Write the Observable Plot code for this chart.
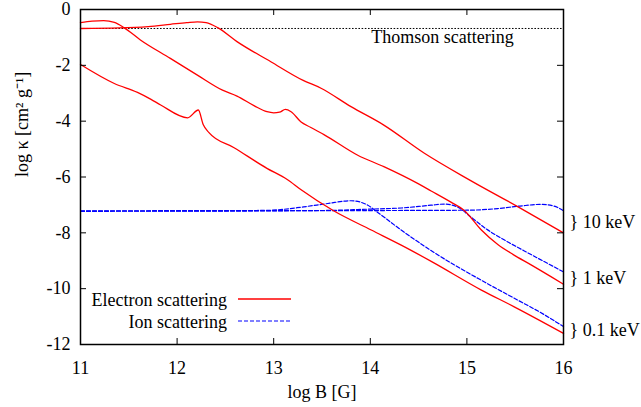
<!DOCTYPE html>
<html><head><meta charset="utf-8">
<script src="https://cdn.jsdelivr.net/npm/d3@7"></script>
<script src="https://cdn.jsdelivr.net/npm/@observablehq/plot@0.6"></script>
<style>
html,body{margin:0;padding:0;background:#fff;}
#chart svg{display:block;}
</style></head><body><div id="chart"></div>
<script>
// ---- data ----
const xTicks = [11, 12, 13, 14, 15, 16];
const yTicks = [0, -2, -4, -6, -8, -10, -12];
const energies = ["10 keV", "1 keV", "0.1 keV"];
const thomsonLog = -0.68;
const thomsonText = "Thomson scattering";
const xLabel = "log B [G]";
const yLabel = "log \u03ba [cm\u00b2 g\u207b\u00b9]";
const legendLabels = ["Electron scattering", "Ion scattering"];

const electron10keV = [[11.0,-0.68],[11.4,-0.66],[11.7,-0.61],[11.93,-0.53],[12.1,-0.47],[12.21,-0.44],[12.3,-0.47],[12.42,-0.65],[12.62,-1.15],[12.97,-1.87],[13.3,-2.53],[13.49,-2.82],[13.8,-3.48],[14.14,-4.14],[14.56,-5.15],[15.03,-6.11],[15.53,-7.07],[16.0,-8.0]];
const electron1keV = [[11.0,-0.47],[11.12,-0.42],[11.24,-0.40],[11.35,-0.46],[11.45,-0.65],[11.62,-1.09],[11.93,-1.75],[12.21,-2.35],[12.47,-2.89],[12.62,-3.10],[12.8,-3.45],[12.93,-3.66],[13.0,-3.70],[13.06,-3.68],[13.12,-3.58],[13.18,-3.66],[13.28,-4.02],[13.38,-4.22],[13.52,-4.48],[13.87,-5.22],[14.14,-5.63],[14.49,-6.23],[14.63,-6.50],[14.83,-6.89],[14.97,-7.19],[15.15,-7.90],[15.32,-8.42],[15.48,-8.78],[15.66,-9.14],[16.0,-9.84]];
const electron01keV = [[11.0,-1.97],[11.35,-2.65],[11.59,-2.97],[11.73,-3.22],[11.83,-3.42],[12.11,-3.88],[12.22,-3.60],[12.27,-4.12],[12.33,-4.41],[12.59,-4.95],[12.93,-5.69],[13.14,-6.09],[13.28,-6.45],[13.62,-7.21],[14.01,-7.90],[14.32,-8.44],[14.64,-9.04],[15.15,-10.05],[15.49,-10.65],[16.0,-11.6]];
const ion10keV = [[11.0,-7.22],[15.0,-7.19],[15.32,-7.13],[15.55,-7.04],[15.77,-6.98],[15.9,-7.04],[16.0,-7.21]];
const ion1keV = [[11.0,-7.22],[13.5,-7.20],[14.0,-7.15],[14.32,-7.11],[14.63,-7.01],[14.77,-6.97],[14.9,-7.07],[15.04,-7.43],[15.2,-7.86],[15.39,-8.26],[15.59,-8.64],[15.8,-9.03],[16.0,-9.40]];
const ion01keV = [[11.0,-7.22],[12.5,-7.21],[12.97,-7.19],[13.31,-7.07],[13.56,-6.95],[13.8,-6.85],[13.97,-7.0],[14.07,-7.25],[14.32,-7.90],[14.64,-8.66],[15.15,-9.70],[15.5,-10.36],[15.8,-10.93],[16.0,-11.36]];

// ---- build table ----
const electronSeries = [electron10keV, electron1keV, electron01keV];
const ionSeries = [ion10keV, ion1keV, ion01keV];
const rows = [];
energies.forEach((e, i) => {
  electronSeries[i].forEach(([x, y]) => rows.push({x, y, id: "e" + e, kind: "electron"}));
  ionSeries[i].forEach(([x, y]) => rows.push({x, y, id: "i" + e, kind: "ion"}));
});
const energyLabels = energies.map((e, i) => ({
  label: "} " + e,
  x: xTicks[xTicks.length - 1],
  y: (electronSeries[i][electronSeries[i].length - 1][1] + ionSeries[i][ionSeries[i].length - 1][1]) / 2
}));

const W = 641, H = 407, mL = 80, mR = 78, mT = 9, mB = 63;
const plotW = W - mL - mR, plotH = H - mT - mB;
const RED = "#ff0000", BLUE = "#0000ff";
const FONT = "'Liberation Serif', 'Times New Roman', serif";

const chart = Plot.plot({
  width: W, height: H,
  marginLeft: mL, marginRight: mR, marginTop: mT, marginBottom: mB,
  style: {fontFamily: FONT, fontSize: "18px", background: "white", color: "black"},
  x: {domain: [11, 16]},
  y: {domain: [-12, 0]},
  marks: [
    Plot.ruleY([thomsonLog], {stroke: "black", strokeWidth: 1, strokeDasharray: "1.6,1.6"}),
    Plot.line(rows.filter(d => d.kind === "ion"), {x: "x", y: "y", z: "id", stroke: BLUE, strokeWidth: 1.2, strokeDasharray: "4,2", curve: "monotone-x"}),
    Plot.line(rows.filter(d => d.kind === "electron"), {x: "x", y: "y", z: "id", stroke: RED, strokeWidth: 1.3, curve: "monotone-x"}),
    Plot.frame({stroke: "black", strokeWidth: 1.5}),
    Plot.tickX(xTicks, {x: d => d, insetTop: plotH - 6, stroke: "black"}),
    Plot.tickX(xTicks, {x: d => d, insetBottom: plotH - 6, stroke: "black"}),
    Plot.tickY(yTicks, {y: d => d, insetRight: plotW - 6, stroke: "black"}),
    Plot.tickY(yTicks, {y: d => d, insetLeft: plotW - 6, stroke: "black"}),
    Plot.axisX(xTicks, {tickSize: 0, tickPadding: 17, label: null, tickFormat: d => String(d), fontSize: 18}),
    Plot.axisY(yTicks, {tickSize: 0, tickPadding: 10, label: null, tickFormat: d => String(d), fontSize: 18}),
    Plot.text([xLabel], {frameAnchor: "bottom", dy: 53, text: d => d, fontSize: 18}),
    Plot.text([yLabel], {frameAnchor: "left", dx: -58, rotate: -90, text: d => d, fontSize: 18}),
    Plot.text([thomsonText], {frameAnchor: "top-right", dx: -121, dy: 21, lineAnchor: "top", textAnchor: "middle", text: d => d, fontSize: 18}),
    Plot.text(energyLabels, {x: "x", y: "y", text: "label", dx: 6, textAnchor: "start", fontSize: 18})
  ]
});

// legend (inside plot, lower left)
const svg = d3.select(chart);
const lg = svg.append("g").attr("font-family", FONT).attr("font-size", 18);
const legendStyles = [{stroke: RED, dash: null, w: 1.3}, {stroke: BLUE, dash: "4,2", w: 1.2}];
legendLabels.forEach((t, i) => {
  const yb = 306 + i * 22;
  lg.append("text").attr("x", 227).attr("y", yb).attr("text-anchor", "end").attr("fill", "black").text(t);
  const ln = lg.append("line").attr("x1", 238).attr("x2", 291).attr("y1", yb - 7).attr("y2", yb - 7)
    .attr("stroke", legendStyles[i].stroke).attr("stroke-width", legendStyles[i].w);
  if (legendStyles[i].dash) ln.attr("stroke-dasharray", legendStyles[i].dash);
});

document.getElementById("chart").appendChild(chart);
</script>
</body></html>
